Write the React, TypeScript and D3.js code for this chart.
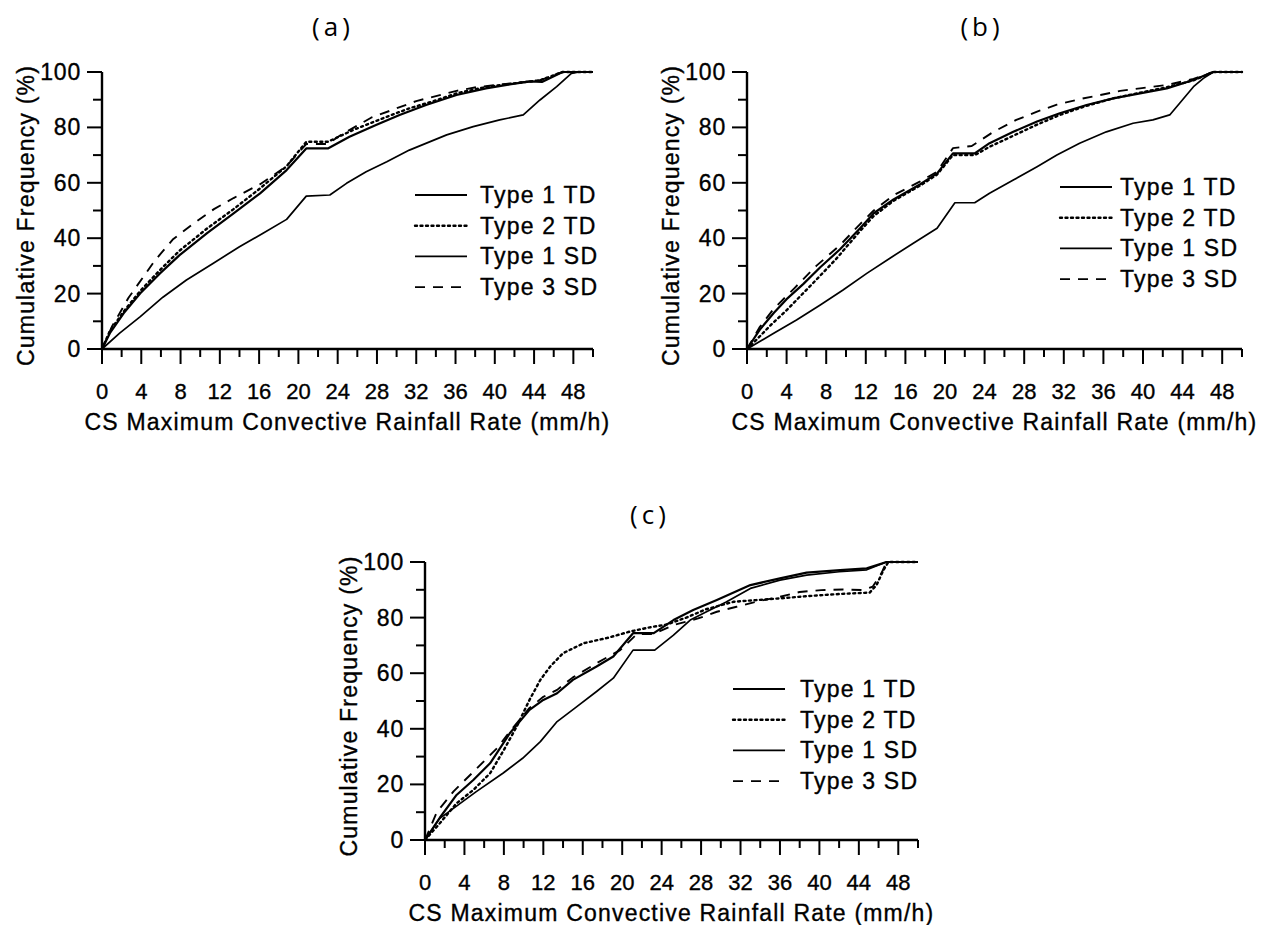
import React from "react";
import * as d3 from "d3";

type Pt = [number, number];

// ---------- data ----------
const seriesNames = ["Type 1 TD", "Type 2 TD", "Type 1 SD", "Type 3 SD"];
const panelTitles = ["(a)", "(b)", "(c)"];
const xTickValues = [0, 4, 8, 12, 16, 20, 24, 28, 32, 36, 40, 44, 48];
const yTickValues = [0, 20, 40, 60, 80, 100];
const xAxisTitle = "CS Maximum Convective Rainfall Rate (mm/h)";
const yAxisTitle = "Cumulative Frequency (%)";

// Panel (a)
const aType1TD: Pt[] = [[0,0],[0.8,5.7],[2.2,12.9],[3.9,20.1],[5.9,27.3],[7.9,33.9],[10.7,41.8],[13.4,49],[16.1,56.2],[18.8,64.6],[20.8,72.4],[23,72.4],[25.2,76.6],[27.9,80.9],[30.3,84.5],[33,88.1],[36.1,91.7],[39.1,94.1],[42.2,95.9],[43.6,96.6],[44.8,96.4],[46.9,100],[50,100]];
const aType2TD: Pt[] = [[0,0],[0.8,6.5],[2.2,13.5],[3.9,21],[5.9,28.5],[7.9,35.5],[10.7,43.5],[13.4,50.5],[16.1,58],[18.8,66],[20.8,74.8],[23,74.8],[25.6,79.1],[28.6,83.3],[31.3,86.9],[33.7,89.4],[36.1,92.3],[39.1,94.6],[42.2,96],[44.6,97],[46.9,100],[50,100]];
const aType1SD: Pt[] = [[0,0],[1.8,5.7],[3.9,11.7],[6.2,18.7],[8.6,24.9],[11.3,30.9],[14,36.9],[16.4,41.8],[18.8,46.8],[20.8,55.2],[23.2,55.6],[24.9,59.8],[26.9,64],[29,67.6],[31.3,71.8],[35.1,77.3],[37.8,80.3],[40.5,82.7],[42.9,84.5],[44.6,89.9],[46.3,94.7],[47.8,99.5],[48.6,100],[50,100]];
const aType3SD: Pt[] = [[0,0],[1,8],[2.7,18.5],[5.4,32],[7.2,39.5],[9.2,45],[11.4,50.5],[13.4,54.5],[16.1,59.5],[18.8,66],[20.8,74],[23,74],[24.2,77],[27.4,83.5],[32,89.5],[36.1,93.2],[38.1,94.5],[42,96],[44.6,97],[46.9,100],[50,100]];

// Panel (b)
const bType1TD: Pt[] = [[0,0],[1.3,7],[2.7,13],[4,18],[5.7,23.5],[7.4,29.5],[9.4,36],[11.4,43.5],[12.8,49],[14.8,54],[17.5,59.5],[19.2,63.4],[20.8,70.6],[23,70.6],[24.5,74.3],[26.9,78.4],[29.3,82.1],[31.6,85.1],[34.3,88.1],[37,90.5],[39.7,92.3],[42.4,94.1],[45.1,97.1],[47.1,100],[50,100]];
const bType2TD: Pt[] = [[0,0],[1,3.5],[2.5,9],[4,14],[5.5,19.5],[7,25],[9,32.5],[11.4,42.5],[12.8,48],[14.8,53.5],[17.5,59],[19.2,63],[20.8,70],[23,70],[24.5,73],[26.9,77],[29.3,81],[31.6,84.5],[34.3,87.8],[37,90.5],[39.7,92.5],[42.4,94.5],[45.1,97],[47.1,100],[50,100]];
const bType1SD: Pt[] = [[0,0],[2.7,5.7],[5,10.5],[7.4,15.9],[9.7,21.3],[12.1,27.3],[14.4,32.7],[16.8,38.2],[19.2,43.6],[21,52.8],[23,52.8],[24.5,56.2],[26.9,61],[29.3,65.8],[31.3,70],[33.6,74.3],[36.3,78.4],[39,81.5],[41,82.7],[42.7,84.5],[43.7,88.7],[45.1,94.7],[46.1,97.7],[47.1,100],[50,100]];
const bType3SD: Pt[] = [[0,0],[1.3,8],[2.7,14.5],[4.8,22],[7,30],[9.4,37.5],[11.4,45],[12.8,50],[14.8,55.5],[17.5,60.5],[19.2,64],[20.8,72.5],[22.7,73.3],[24.9,78.4],[27.2,82.7],[29.3,85.7],[31.3,88.2],[33.6,90.2],[35.7,91.7],[37.7,93.2],[39.7,94.1],[42.4,95.3],[45.1,97.5],[47.1,100],[50,100]];

// Panel (c)
const cType1TD: Pt[] = [[0,0],[1.5,8],[3.2,16.2],[4.9,21.6],[6.6,27.6],[8.6,38.4],[10.6,46.8],[12,50.4],[13.4,52.8],[15,57.6],[17.4,62.4],[19.1,66],[21.1,74.4],[23.2,74.4],[25.2,79.1],[27.2,82.7],[29.6,86.3],[33,91.7],[36,94.1],[38.7,96.2],[42.1,97.1],[44.8,97.7],[46.8,100],[50,100]];
const cType2TD: Pt[] = [[0,0],[1.5,6],[3.2,13.2],[4.9,18],[6.6,24],[8,32.4],[9.3,40.8],[10.6,50.4],[11.7,57.6],[12.7,62.4],[14,67.2],[16.1,70.8],[18.4,72.6],[20.8,75],[22.8,76.5],[24.5,77.5],[26.5,80],[28.5,83],[31.3,85.7],[33.6,86.3],[36,86.9],[38.7,87.7],[42.1,88.5],[45.1,89],[45.8,91.7],[46.5,97.1],[47,100],[50,100]];
const cType1SD: Pt[] = [[0,0],[1.5,7.8],[5.2,17.4],[7.9,24],[9.9,29.4],[11.7,35.4],[13.4,42.6],[15.4,48],[17.4,53.4],[19.1,58.2],[21.1,68.3],[23.3,68.3],[25.2,73.7],[26.9,79.1],[28.5,82],[30.5,85.5],[33,90.5],[36,93.5],[38.7,95.3],[42,96.5],[44.8,97.2],[46.8,100],[50,100]];
const cType3SD: Pt[] = [[0,0],[1.2,10],[2.9,17.5],[4.9,24.5],[7.3,33],[8.6,39],[10.6,47.5],[12,51.5],[13.4,54],[15,58.5],[17.4,63.6],[19.8,68.3],[21.5,74.1],[23.2,74.1],[25.2,77.3],[27.7,79.7],[29.6,82.1],[31.6,83.9],[33.6,85.7],[36,87.5],[38,89.2],[40.2,89.9],[42.4,90.1],[44.4,89.9],[45.4,91.1],[46.3,96],[46.8,100],[50,100]];

const panelSeries: Pt[][][] = [
  [aType1TD, aType2TD, aType1SD, aType3SD],
  [bType1TD, bType2TD, bType1SD, bType3SD],
  [cType1TD, cType2TD, cType1SD, cType3SD],
];

// ---------- layout / styles ----------
const layouts = [
  { x0: 102, x1: 593, yTop: 72, yBot: 349, titleX: 333, titleY: 36, legX: 415, legTextX: 480, legY: 195 },
  { x0: 747, x1: 1242, yTop: 72, yBot: 349, titleX: 982, titleY: 36, legX: 1060, legTextX: 1120, legY: 187 },
  { x0: 425, x1: 918, yTop: 562, yBot: 840, titleX: 650, titleY: 524, legX: 733, legTextX: 800, legY: 689 },
];

const lineStyles = [
  { width: 2.2, dash: undefined as string | undefined },
  { width: 2.4, dash: "2,3.5" },
  { width: 1.7, dash: undefined as string | undefined },
  { width: 1.9, dash: "10,8" },
];

const FONT = "Liberation Sans, Arial, Helvetica, sans-serif";
const textStyle = { fontFamily: FONT };

function Panel({ idx }: { idx: number }) {
  const L = layouts[idx];
  const x = d3.scaleLinear().domain([0, 50]).range([L.x0, L.x1]);
  const y = d3.scaleLinear().domain([0, 100]).range([L.yBot, L.yTop]);
  const line = d3
    .line<Pt>()
    .x((d) => x(d[0]))
    .y((d) => y(d[1]));
  const xMinor = d3.range(0, 51, 2);
  const yMinor = d3.range(0, 101, 10);
  const midX = (L.x0 + L.x1) / 2;
  const midY = (L.yTop + L.yBot) / 2;
  const heavy = { stroke: "#000", strokeWidth: 0.35 };
  return (
    <g>
      <text
        x={L.titleX}
        y={L.titleY}
        textAnchor="middle"
        style={{ fontFamily: "Open Sans, sans-serif" }}
        fontSize={26}
        letterSpacing={4}
      >
        {panelTitles[idx]}
      </text>
      {panelSeries[idx].map((s, i) => (
        <path
          key={i}
          d={line(s) || ""}
          fill="none"
          stroke="#000"
          strokeWidth={lineStyles[i].width}
          strokeDasharray={lineStyles[i].dash}
          strokeLinejoin="round"
          strokeLinecap={i === 1 ? "round" : "butt"}
        />
      ))}
      <line x1={L.x0} x2={L.x0} y1={L.yTop} y2={L.yBot} stroke="#000" strokeWidth={2.4} />
      <line x1={L.x0} x2={L.x1} y1={L.yBot} y2={L.yBot} stroke="#000" strokeWidth={2.4} />
      {yMinor.map((v) => (
        <line
          key={"yt" + v}
          x1={L.x0 - (v % 20 === 0 ? 15 : 9)}
          x2={L.x0}
          y1={y(v)}
          y2={y(v)}
          stroke="#000"
          strokeWidth={2}
        />
      ))}
      {xMinor.map((v) => (
        <line
          key={"xt" + v}
          x1={x(v)}
          x2={x(v)}
          y1={L.yBot}
          y2={L.yBot + (v % 4 === 0 ? 15 : 8)}
          stroke="#000"
          strokeWidth={2}
        />
      ))}
      {yTickValues.map((v) => (
        <text
          key={"yl" + v}
          x={L.x0 - 21}
          y={y(v)}
          textAnchor="end"
          dominantBaseline="central"
          style={textStyle}
          fontSize={23}
          letterSpacing={0.8}
          {...heavy}
        >
          {v}
        </text>
      ))}
      {xTickValues.map((v) => (
        <text
          key={"xl" + v}
          x={x(v)}
          y={L.yBot + 50}
          textAnchor="middle"
          style={textStyle}
          fontSize={22}
          {...heavy}
        >
          {v}
        </text>
      ))}
      <text
        x={midX}
        y={L.yBot + 81}
        textAnchor="middle"
        style={textStyle}
        fontSize={23}
        letterSpacing={1.2}
        {...heavy}
      >
        {xAxisTitle}
      </text>
      <text
        transform={`translate(${L.x0 - 76},${midY + 5}) rotate(-90)`}
        textAnchor="middle"
        dominantBaseline="central"
        style={textStyle}
        fontSize={23}
        letterSpacing={1.2}
        {...heavy}
      >
        {yAxisTitle}
      </text>
      {seriesNames.map((name, i) => {
        const ly = L.legY + i * 30.7;
        return (
          <g key={"lg" + i}>
            <line
              x1={L.legX}
              x2={L.legX + 52}
              y1={ly}
              y2={ly}
              stroke="#000"
              strokeWidth={lineStyles[i].width}
              strokeDasharray={lineStyles[i].dash}
              strokeLinecap={i === 1 ? "round" : "butt"}
            />
            <text
              x={L.legTextX}
              y={ly}
              dominantBaseline="central"
              style={textStyle}
              fontSize={23}
              letterSpacing={1.2}
              {...heavy}
            >
              {name}
            </text>
          </g>
        );
      })}
    </g>
  );
}

export default function App() {
  return (
    <svg
      width={1271}
      height={925}
      viewBox="0 0 1271 925"
      style={{ position: "absolute", left: 0, top: 0, background: "#fff", display: "block" }}
    >
      <rect x={0} y={0} width={1271} height={925} fill="#fff" />
      {[0, 1, 2].map((i) => (
        <Panel key={i} idx={i} />
      ))}
    </svg>
  );
}
